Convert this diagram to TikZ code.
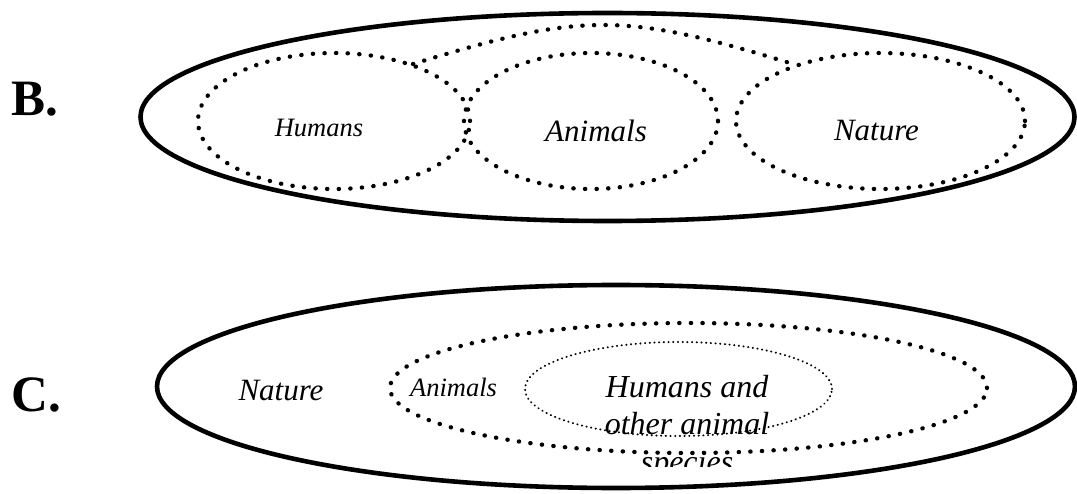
\documentclass[tikz,border=0pt]{standalone}
\usepackage{fontspec}
\setmainfont{LiberationSerif}[Extension=.ttf,UprightFont=*-Regular,BoldFont=*-Bold,ItalicFont=*-Italic,BoldItalicFont=*-BoldItalic]
\begin{document}
\begin{tikzpicture}[x=1pt,y=-1pt,
  outerline/.style={line width=4.6pt},
  bigdots/.style={line width=4.3pt,line cap=round,dash pattern=on 0.3pt off 11.3pt},
  smalldots/.style={line width=2.1pt,line cap=round,dash pattern=on 0.2pt off 4.5pt},
  lbl/.style={inner sep=0pt,anchor=base,font=\fontsize{31}{37}\selectfont\itshape},
  slbl/.style={inner sep=0pt,anchor=base,font=\fontsize{26.5}{32}\selectfont\itshape},
  letter/.style={inner sep=0pt,anchor=base west,font=\fontsize{51}{60}\selectfont\bfseries}]
\useasboundingbox (0,0) rectangle (1077,494);
% ---------- B ----------
\node[letter] (bl) at (11,116) {B.};
\draw[outerline] (607.5,117) ellipse [x radius=467pt, y radius=104pt];
\draw[bigdots] (334,121) ellipse [x radius=136pt, y radius=68pt];
\draw[bigdots] (591,121) ellipse [x radius=127pt, y radius=68pt];
\draw[bigdots] (880.5,121) ellipse [x radius=144.5pt, y radius=68pt];
\draw[bigdots] (413,64) .. controls (582,12) and (624,12) .. (793,64);
\node[slbl] (bh) at (319,137) {Humans};
\node[lbl] (ba) at (596,141.5) {Animals};
\node[lbl] (bn) at (876.5,141) {Nature};
% ---------- C ----------
\node[letter] (cl) at (11,412) {C.};
\node[lbl] (cn) at (281,400) {Nature};
\node[slbl] (ca) at (453.5,397) {Animals};
\node[lbl,font=\fontsize{32}{37}\selectfont\itshape] (ch1) at (687,398) {Humans and};
\node[lbl,font=\fontsize{32}{37}\selectfont\itshape] (ch2) at (687,435) {other animal};
\begin{scope}
  \clip (560,440) rectangle (820,466);
  \node[lbl,font=\fontsize{32}{37}\selectfont\itshape] (ch3) at (687,472) {species};
\end{scope}
\draw[outerline] (616,386.5) ellipse [x radius=459pt, y radius=101.5pt];
\draw[bigdots] (688.5,388) ellipse [x radius=298.5pt, y radius=65pt];
\draw[smalldots] (678.5,389) ellipse [x radius=153.5pt, y radius=47pt];
\end{tikzpicture}
\end{document}
